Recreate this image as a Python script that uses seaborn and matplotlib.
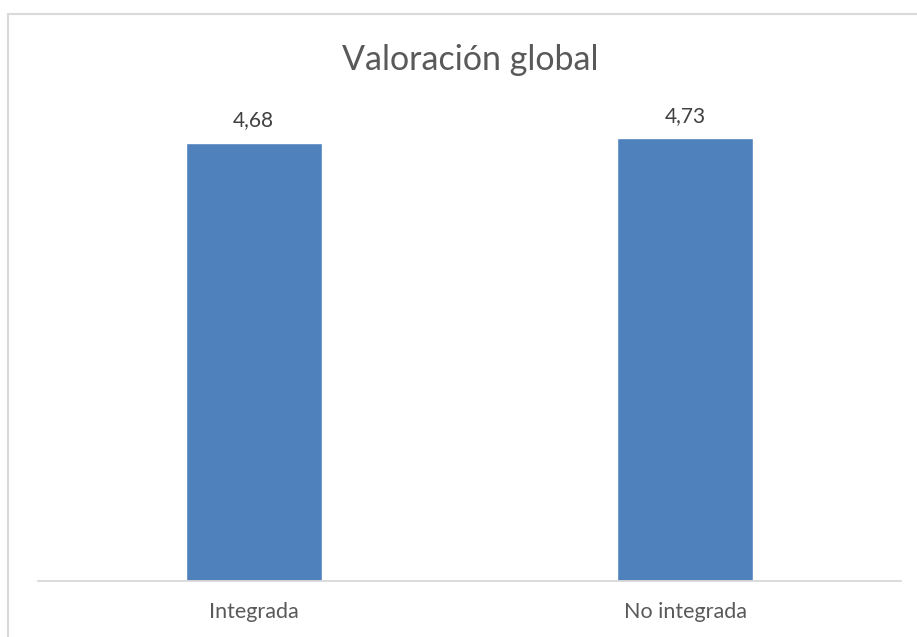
import matplotlib
matplotlib.use("Agg")
import matplotlib.pyplot as plt
import seaborn as sns
import pandas as pd
from matplotlib.patches import Rectangle

categories = ["Integrada", "No integrada"]
values = [4.68, 4.73]
value_labels = ["4,68", "4,73"]
title = "Valoración global"

sns.set_theme(style="white")
plt.rcParams["font.family"] = ["Lato", "DejaVu Sans"]

df = pd.DataFrame({"cat": categories, "val": values})

fig = plt.figure(figsize=(9.17, 6.37), dpi=100)
ax = fig.add_axes([38/917, 56/637, 863/917, (581-113)/637])
sns.barplot(data=df, x="cat", y="val", color="#4F81BD", width=0.315,
            saturation=1, ax=ax)
ax.set_ylim(0, 5)
ax.set_xlim(-0.5, 1.5)
ax.set_xlabel("")
ax.set_ylabel("")
ax.set_yticks([])
ax.tick_params(axis="x", length=0, labelsize=15.5, colors="#595959", pad=15)
for s in ["top", "right", "left"]:
    ax.spines[s].set_visible(False)
ax.spines["bottom"].set_color("#D9D9D9")
ax.spines["bottom"].set_linewidth(1.3)

for p, lab in zip(ax.patches, value_labels):
    ax.annotate(lab, (p.get_x() + p.get_width()/2, p.get_height()),
                xytext=(0, 9), textcoords="offset points",
                ha="center", va="bottom", fontsize=15, color="#404040")

fig.text(470/917, 1 - 60/637, title, ha="center", va="center",
         fontsize=24.5, color="#595959")

fig.patches.append(Rectangle((8/917, -0.01), 1.0, 1 - 14/637 + 0.01,
                             transform=fig.transFigure, fill=False,
                             edgecolor="#D9D9D9", linewidth=1.5))

fig.savefig("out.png", dpi=100)
